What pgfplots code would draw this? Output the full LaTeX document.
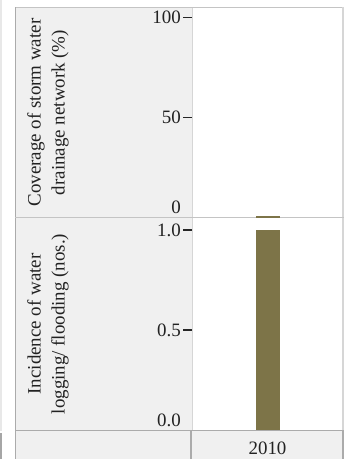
\documentclass[border=0pt]{standalone}
\usepackage{fontspec}
\setmainfont{Liberation Serif}
\usepackage{pgfplots}
\pgfplotsset{compat=1.18}
\definecolor{cellgray}{HTML}{F0F0F0}
\definecolor{linegray}{HTML}{C4C4C4}
\definecolor{lightline}{HTML}{D6D6D6}
\definecolor{darkline}{HTML}{ABABAB}
\definecolor{barcol}{RGB}{125,116,72}
\definecolor{txt}{HTML}{222222}
\pgfplotsset{
  panel/.style={
    scale only axis, width=151bp,
    xmin=-1, xmax=1,
    axis line style={draw=none},
    ytick pos=left, xtick pos=bottom,
    tick align=outside,
    major tick length=9bp,
    tick style={black!85, line width=1.3bp},
    /pgf/number format/assume math mode=true,
    tick label style={font=\fontsize{19}{22}\selectfont, text=txt},
    yticklabel style={inner xsep=2bp},
    extra y tick style={tick style={draw=none}, yticklabel style={anchor=south east}},
  }
}
\begin{document}
\begin{tikzpicture}
\useasboundingbox (0,0) rectangle (349bp,-459bp);
\begin{scope}
\clip (0,0) rectangle (349bp,-459bp);
\fill[black!9] (0,0) rectangle (2bp,-431bp);
\fill[black!35] (0,-433bp) rectangle (2bp,-459bp);
\fill[cellgray] (15.5bp,-7.5bp) rectangle (192bp,-459bp);
\fill[cellgray] (192bp,-430bp) rectangle (343bp,-459bp);
\draw[linegray, line width=1.6bp] (15bp,-7.5bp) -- (343.5bp,-7.5bp);
\draw[darkline, line width=1.6bp] (15.5bp,-7bp) -- (15.5bp,-459bp);
\draw[lightline, line width=1.6bp] (342.8bp,-7bp) -- (342.8bp,-430bp);
\draw[darkline, line width=1.6bp] (342.8bp,-430bp) -- (342.8bp,-459bp);
\draw[lightline, line width=1bp] (192bp,-7.5bp) -- (192bp,-430bp);
\draw[darkline, line width=1.3bp] (191bp,-430bp) -- (191bp,-459bp);
\draw[linegray, line width=1.5bp] (15bp,-217.5bp) -- (343.5bp,-217.5bp);
\draw[darkline, line width=1.6bp] (15bp,-430.5bp) -- (343.5bp,-430.5bp);
\end{scope}
\node[rotate=90, align=center, text=txt, font=\fontsize{19}{24}\selectfont] at (48bp,-112.5bp) {Coverage of storm water\\drainage network (\%)};
\node[rotate=90, align=center, text=txt, font=\fontsize{19}{24}\selectfont] at (48bp,-324bp) {Incidence of water\\logging/ flooding (nos.)};

\begin{axis}[panel,
  at={(192bp,-217.5bp)}, anchor=south west, height=210bp,
  ymin=0, ymax=105,
  ytick={50,100}, yticklabels={50,100},
  extra y ticks={0}, extra y tick labels={0},
  xtick=\empty]
\addplot[ybar, bar width=24bp, fill=barcol, draw=none] coordinates {(0,0.6)};
\end{axis}

\begin{axis}[panel,
  at={(192bp,-430bp)}, anchor=south west, height=212.5bp,
  ymin=0, ymax=1.0625,
  ytick={0.5,1}, yticklabels={0.5,1.0},
  extra y ticks={0}, extra y tick labels={0.0},
  xtick={0}, xticklabels={2010},
  xtick style={draw=none},
  xticklabel style={yshift=1bp}]
\addplot[ybar, bar width=24bp, fill=barcol, draw=none] coordinates {(0,1)};
\end{axis}
\end{tikzpicture}
\end{document}
